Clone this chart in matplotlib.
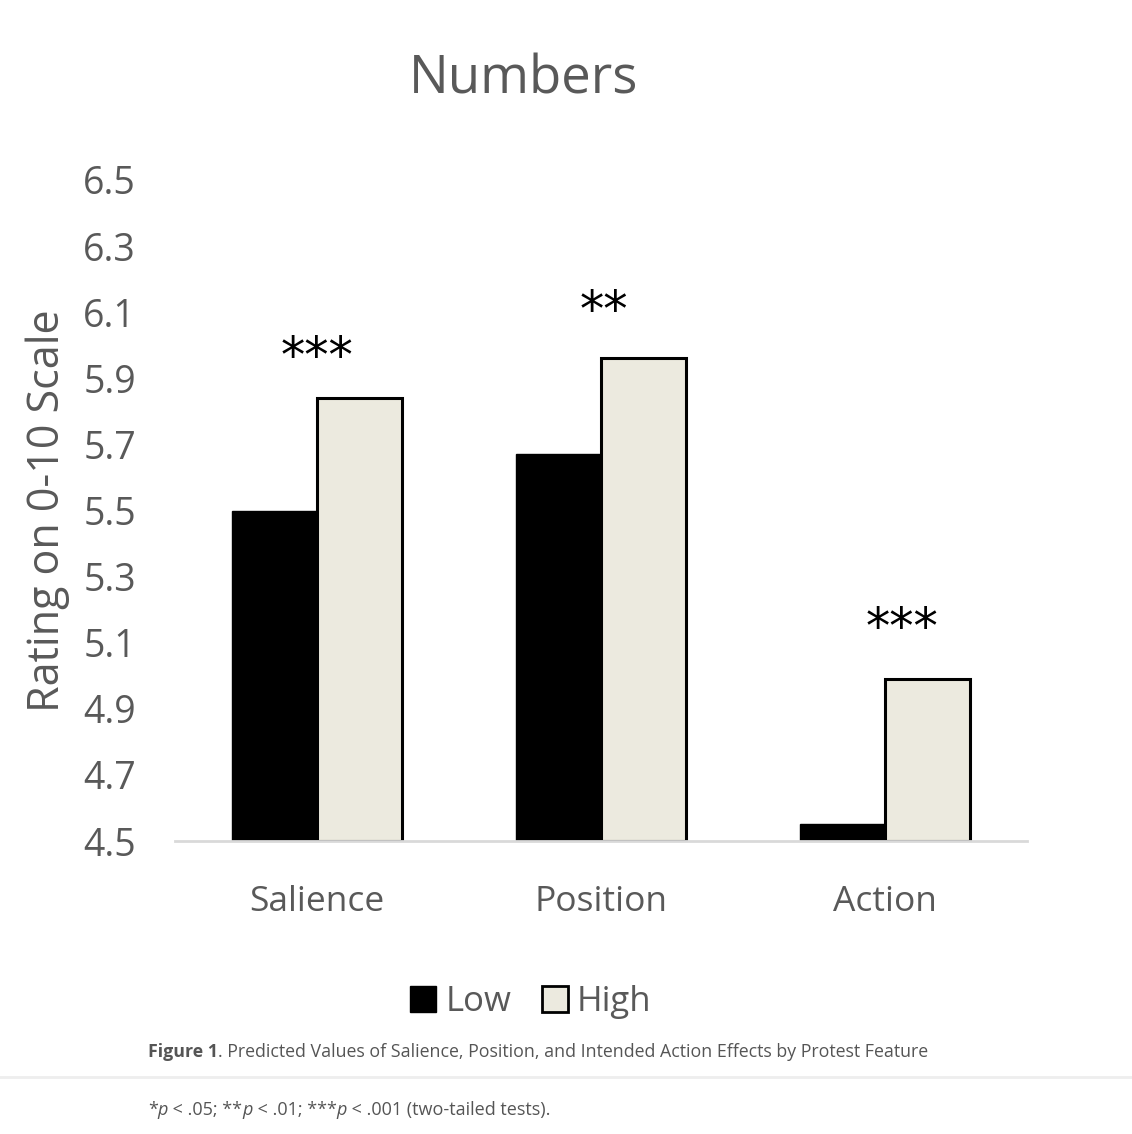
import matplotlib.pyplot as plt
import numpy as np
from matplotlib.patches import Patch

# data
CATEGORIES = ["Salience", "Position", "Action"]
LOW = [5.50, 5.67, 4.55]
HIGH = [5.84, 5.96, 4.99]
STARS = ["***", "**", "***"]
YTICKS = [4.5, 4.7, 4.9, 5.1, 5.3, 5.5, 5.7, 5.9, 6.1, 6.3, 6.5]

GREY = '#595959'
BEIGE = '#ECEADF'

plt.rcParams['font.family'] = ['Open Sans', 'DejaVu Sans']

fig = plt.figure(figsize=(11.32, 11.34), dpi=100)
ax = fig.add_axes([175 / 1132, 1 - 841 / 1134, 852 / 1132, 661 / 1134])

x = np.arange(len(CATEGORIES))
width = 0.3
ax.bar(x - width / 2, np.array(LOW) - 4.5, width, bottom=4.5, color='black',
       edgecolor='black', linewidth=1, zorder=3)
ax.bar(x + width / 2, np.array(HIGH) - 4.5, width, bottom=4.5, color=BEIGE,
       edgecolor='black', linewidth=2.2, zorder=3)

# significance stars above each pair
star_gap = [0.12, 0.14, 0.15]
star_shift = [0, 0.01, 0.06]
for i, s in enumerate(STARS):
    ax.text(x[i] + star_shift[i], HIGH[i] + star_gap[i], s, ha='center', va='center',
            fontsize=35, family='DejaVu Sans', color='black')

ax.set_xlim(-0.5, 2.5)
ax.set_ylim(4.5, 6.5)
ax.set_yticks(YTICKS)
ax.set_yticklabels([f'{v:.1f}' for v in YTICKS])
ax.set_xticks(x)
ax.set_xticklabels(CATEGORIES)
ax.tick_params(axis='y', length=0, pad=28, labelsize=27, labelcolor=GREY)
ax.tick_params(axis='x', length=0, pad=32, labelsize=25.5, labelcolor=GREY)

for side in ['top', 'right', 'left']:
    ax.spines[side].set_visible(False)
ax.spines['bottom'].set_color('#D9D9D9')
ax.spines['bottom'].set_linewidth(2)
ax.spines['bottom'].set_zorder(4)

ax.set_ylabel('Rating on 0-10 Scale', fontsize=31, color=GREY)
ax.yaxis.set_label_coords((48 - 175) / 852, 0.5)
ax.yaxis.label.set_va('center')

fig.text(524 / 1132, 1 - 80 / 1134, 'Numbers', ha='center', va='center',
         fontsize=38, color=GREY)

handles = [Patch(facecolor='black', edgecolor='black', label='Low'),
           Patch(facecolor=BEIGE, edgecolor='black', linewidth=2, label='High')]
fig.legend(handles=handles, loc='center', bbox_to_anchor=(531 / 1132, 1 - 1002 / 1134),
           ncol=2, frameon=False, fontsize=25, handlelength=0.75, handleheight=0.75,
           handletextpad=0.25, columnspacing=0.9, labelcolor=GREY)

# caption
cap_font = ['Open Sans', 'DejaVu Sans']
renderer = fig.canvas.get_renderer()
t1 = fig.text(148 / 1132, 1 - 1052 / 1134, 'Figure 1', ha='left', va='center',
              fontsize=12.8, fontweight='bold', color='#555555', family=cap_font)
bb = t1.get_window_extent(renderer)
fig.text(bb.x1 / fig.bbox.width, 1 - 1052 / 1134,
         '. Predicted Values of Salience, Position, and Intended Action Effects by Protest Feature',
         ha='left', va='center', fontsize=12.8, color='#555555', family=cap_font)

fig.add_artist(plt.Line2D([0, 1], [1 - 1077 / 1134] * 2, color='#EEEEEE', linewidth=2))

parts = [('*', 'normal'), ('p', 'italic'), (' < .05; **', 'normal'), ('p', 'italic'),
         (' < .01; ***', 'normal'), ('p', 'italic'), (' < .001 (two-tailed tests).', 'normal')]
xpos = 148
for txt, style in parts:
    t = fig.text(xpos / 1132, 1 - 1110 / 1134, txt, ha='left', va='center', fontsize=13,
                 style=style, color='#555555', family=cap_font)
    xpos = t.get_window_extent(renderer).x1

fig.savefig('out.png', dpi=100)
